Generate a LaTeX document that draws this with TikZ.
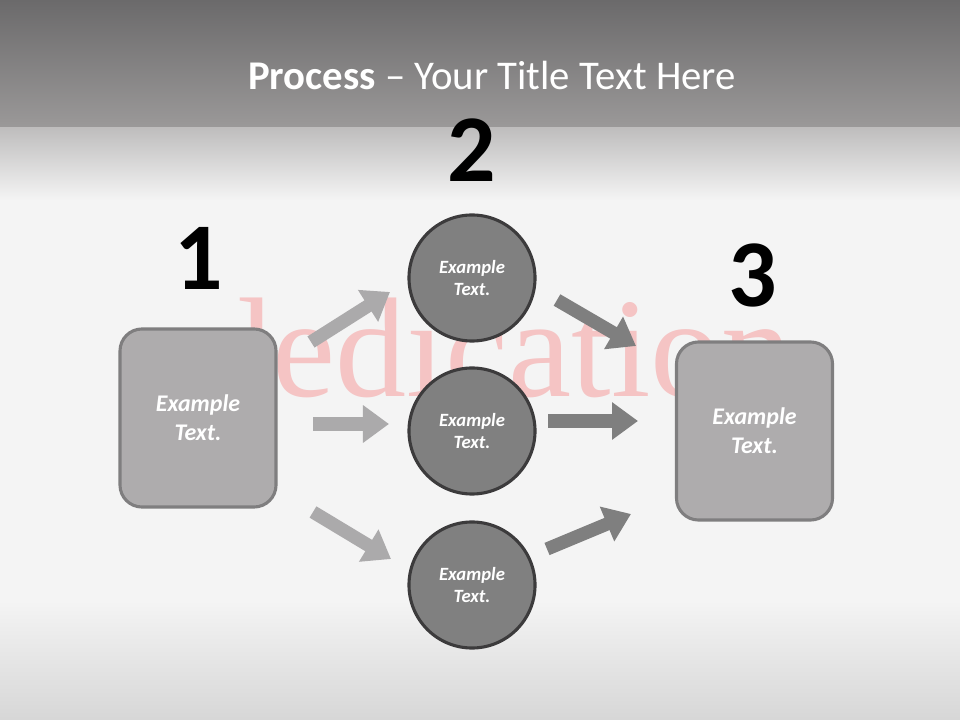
\documentclass[tikz,border=0pt]{standalone}
\usepackage{fontspec}
\setmainfont{Carlito}
\newfontfamily\bgserif{Liberation Serif}
\usetikzlibrary{arrows.meta, positioning}

\definecolor{hdrtop}{HTML}{6B6A6B}
\definecolor{hdrbot}{HTML}{9B9999}
\definecolor{pagebg}{HTML}{F4F4F4}
\definecolor{boxfill}{HTML}{AEACAD}
\definecolor{boxline}{HTML}{7F7E7F}
\definecolor{circfill}{HTML}{808080}
\definecolor{circline}{HTML}{3C3B3C}
\definecolor{lightarrow}{HTML}{ABAAAB}
\definecolor{darkarrow}{HTML}{7F7F7F}
\definecolor{bgpink}{HTML}{F5C4C4}

\tikzset{
  stepbox/.style={draw=boxline, fill=boxfill, line width=2.2pt, rounded corners=0.55cm,
    minimum width=3.9cm, minimum height=4.45cm, text=white, align=center,
    font=\bfseries\itshape\fontsize{17}{20.6}\selectfont},
  stage/.style={circle, draw=circline, fill=circfill, line width=2.2pt, minimum size=3.15cm,
    inner sep=0pt, text=white, align=center,
    font=\bfseries\itshape\fontsize{13.3}{16.3}\selectfont},
  num/.style={font=\bfseries\fontsize{68}{68}\selectfont, inner sep=0pt},
  fatarrow/.style={line width=0.33cm, -{Triangle[length=0.65cm,width=0.9cm]}},
}

\begin{document}
\begin{tikzpicture}[x=0.025cm, y=-0.025cm]
  % background and header band
  \fill[pagebg] (0,0) rectangle (960,720);
  \shade[top color=hdrtop, bottom color=hdrbot] (0,0) rectangle (960,128);
  \shade[top color=hdrbot!60!pagebg, bottom color=pagebg] (0,128) rectangle (960,200);
  \shade[top color=pagebg, bottom color=black!12!pagebg] (0,600) rectangle (960,720);
  \node[text=bgpink, font=\bgserif\fontsize{101}{101}\selectfont, anchor=base, inner sep=0pt] (bgword) at (497,397) {dedication};

  % title
  \node[text=white, font=\fontsize{29}{35}\selectfont] (title) at (492,75) {\textbf{Process} – Your Title Text Here};

  % steps
  \node[stepbox] (start) at (198,418) {Example\\Text.};
  \node[stepbox] (finish) at (754.5,431) {Example\\Text.};
  \node[stage] (top) at (472,278) {Example\\Text.};
  \node[stage] (mid) at (472,431) {Example\\Text.};
  \node[stage] (bot) at (472,585) {Example\\Text.};

  % numbers
  \node[num] (n1) at (199,258) {1};
  \node[num] (n2) at (472,150) {2};
  \node[num] (n3) at (753,275) {3};

  % arrow ends
  \coordinate (a1s) at (311,342);  \coordinate (a1e) at (390,292);
  \coordinate (a2s) at (313,424);  \coordinate (a2e) at (389,424);
  \coordinate (a3s) at (313,512);  \coordinate (a3e) at (391,559);
  \coordinate (b1s) at (557,300);  \coordinate (b1e) at (636,346);
  \coordinate (b2s) at (548,421);  \coordinate (b2e) at (638,421);
  \coordinate (b3s) at (547,549);  \coordinate (b3e) at (631,514);

  \draw[fatarrow, lightarrow] (a1s) -- (a1e);
  \draw[fatarrow, lightarrow] (a2s) -- (a2e);
  \draw[fatarrow, lightarrow] (a3s) -- (a3e);
  \draw[fatarrow, darkarrow] (b1s) -- (b1e);
  \draw[fatarrow, darkarrow] (b2s) -- (b2e);
  \draw[fatarrow, darkarrow] (b3s) -- (b3e);
\end{tikzpicture}
\end{document}
